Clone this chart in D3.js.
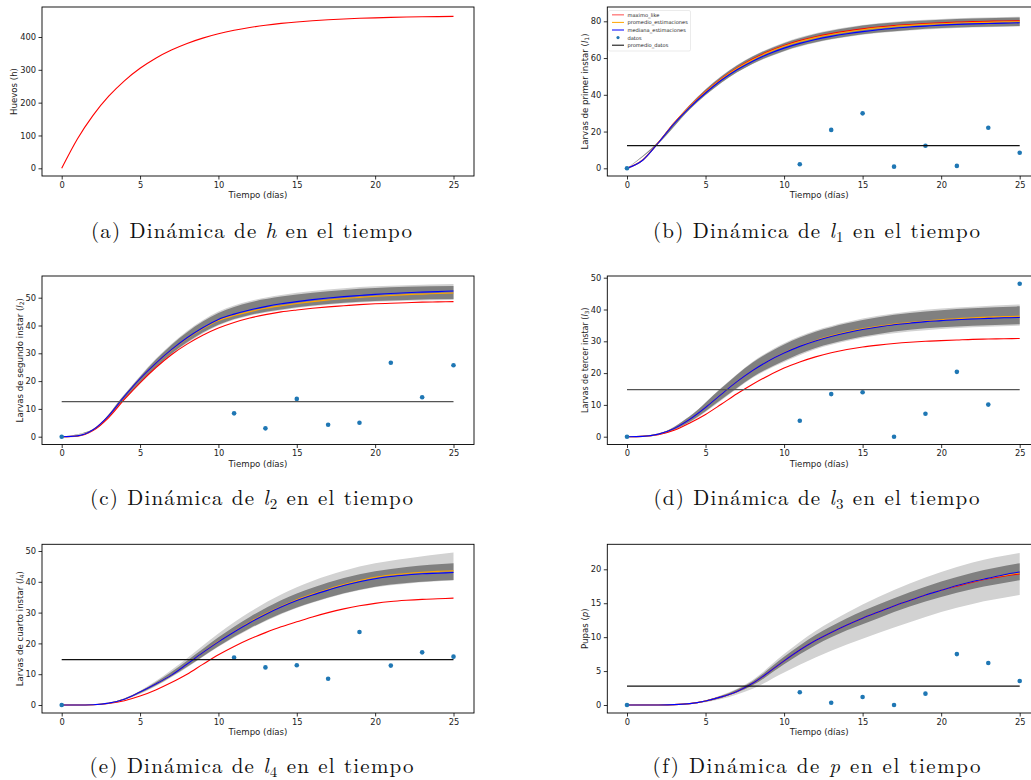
<!DOCTYPE html>
<html><head><meta charset="utf-8">
<script src="https://cdn.jsdelivr.net/npm/d3@7"></script>
<style>body{margin:0;background:#fff}</style>
</head><body>
<svg id="c" width="1031" height="780" xmlns="http://www.w3.org/2000/svg"></svg>
<script>
// ---------- data ----------
const days = [0,1,2,3,4,5,6,7,8,9,10,11,12,13,14,15,16,17,18,19,20,21,22,23,24,25];
const bandDays = [0,2,4,6,8,10,12,14,16,18,20,22,25];
const sampleDays = [0,11,13,15,17,19,21,23,25];
const xTicks = [0,5,10,15,20,25];

// (a) huevos
const huevos = [0,89.2,161.3,219.6,266.6,304.7,335.5,360.3,380.4,396.6,409.8,420.4,428.9,435.8,441.4,445.9,449.6,452.6,455.0,456.9,458.4,459.7,460.7,461.5,462.2,462.7];

// (b) l1
const l1Max  = [0,4.5,14.1,24.7,33.8,41.8,48.8,54.6,59.5,63.5,66.8,69.5,71.6,73.3,74.7,75.9,76.9,77.7,78.3,78.8,79.2,79.6,79.8,80.0,80.2,80.3];
const l1Prom = [0,4.5,14.0,24.6,33.6,41.6,48.5,54.3,59.1,63.1,66.4,69.0,71.1,72.8,74.2,75.4,76.4,77.2,77.8,78.3,78.7,79.0,79.3,79.5,79.7,79.8];
const l1Med  = [0,4.4,13.9,24.3,33.2,41.0,47.9,53.6,58.3,62.2,65.4,68.0,70.1,71.8,73.2,74.4,75.4,76.2,76.9,77.4,77.9,78.3,78.6,78.8,79.0,79.2];
const l1CoreLo  = [0,13.5,32.2,46.6,56.9,63.9,68.6,71.7,73.9,75.3,76.3,76.9,77.5];
const l1CoreHi  = [0,14.5,34.5,49.9,60.8,68.1,73.1,76.4,78.6,80.0,80.9,81.5,82.1];
const l1OuterLo = [0,13.4,32.0,46.4,56.7,63.6,68.3,71.4,73.6,75.0,76.0,76.6,77.2];
const l1OuterHi = [0,14.6,34.7,50.2,61.1,68.5,73.5,76.8,79.0,80.4,81.3,81.9,82.5];
const l1Datos = [0,2.2,20.9,29.9,0.9,12.3,1.3,22.1,8.5];
const l1PromDatos = 12.3;

// (c) l2
const l2Max  = [0,0.2,2.2,6.9,13.4,19.4,24.8,29.5,33.3,36.5,39.1,41.1,42.7,43.9,44.9,45.6,46.2,46.7,47.1,47.5,47.8,48.0,48.2,48.4,48.5,48.6];
const l2Prom = [0,0.3,2.5,7.6,14.5,20.9,26.4,31.2,35.4,38.9,41.8,43.6,45.0,46.2,47.1,47.9,48.6,49.2,49.7,50.1,50.5,50.8,51.1,51.3,51.5,51.7];
const l2Med  = [0,0.3,2.5,7.6,14.5,20.9,26.4,31.3,35.6,39.2,42.2,44.1,45.6,46.8,47.8,48.6,49.3,49.9,50.4,50.8,51.2,51.5,51.8,52.0,52.2,52.4];
const l2CoreLo  = [0,2.3,13.6,25.0,34.0,40.3,43.8,45.8,47.2,48.2,48.8,49.2,49.5];
const l2CoreHi  = [0,2.65,15.1,27.7,37.6,44.5,48.3,50.4,51.8,52.8,53.5,53.9,54.2];
const l2OuterLo = [0,2.2,13.3,24.6,33.6,40.0,43.5,45.5,46.9,47.9,48.5,48.9,49.2];
const l2OuterHi = [0,2.7,15.3,28.0,38.0,45.0,48.8,51.0,52.4,53.4,54.1,54.5,54.9];
const l2Datos = [0,8.4,3.0,13.6,4.3,5.0,26.6,14.2,25.7];
const l2PromDatos = 12.6;

// (d) l3
const l3Max  = [0,0.1,0.6,2.0,4.3,7.0,10.2,13.5,16.5,19.2,21.6,23.5,25.1,26.4,27.4,28.2,28.8,29.3,29.7,30.0,30.2,30.4,30.6,30.7,30.8,30.9];
const l3Prom = [0,0.1,0.8,2.6,5.5,9.2,13.3,17.3,20.8,23.8,26.4,28.5,30.2,31.7,32.9,33.9,34.7,35.4,35.9,36.4,36.8,37.1,37.4,37.6,37.8,37.9];
const l3Med  = [0,0.1,0.8,2.6,5.5,9.2,13.3,17.3,20.8,23.8,26.3,28.4,30.1,31.5,32.7,33.7,34.5,35.2,35.7,36.2,36.5,36.8,37.0,37.2,37.4,37.5];
const l3CoreLo  = [0,0.7,4.7,11.7,18.8,23.9,27.9,30.5,32.3,33.6,34.4,34.9,35.4];
const l3CoreHi  = [0,0.95,6.4,15.2,23.3,29.0,33.0,35.7,37.6,38.9,39.8,40.4,41.0];
const l3OuterLo = [0,0.6,4.5,11.4,18.5,23.5,27.5,30.1,31.9,33.1,33.9,34.4,34.9];
const l3OuterHi = [0,1.0,6.5,15.4,23.6,29.4,33.4,36.1,38.0,39.4,40.3,40.9,41.6];
const l3Datos = [0,5.0,13.4,14.0,0,7.2,20.4,10.1,48.1];
const l3PromDatos = 14.8;

// (e) l4
const l4Max  = [0,0,0.1,0.5,1.4,2.9,4.9,7.3,10.0,13.2,16.3,19.0,21.4,23.5,25.4,27.0,28.6,30.0,31.2,32.2,33.0,33.6,34.0,34.3,34.5,34.7];
const l4Prom = [0,0,0.1,0.6,1.9,4.2,6.8,9.7,13.3,17.0,20.6,23.8,26.9,29.6,32.0,34.2,36.0,37.6,39.1,40.4,41.5,42.2,42.7,43.1,43.4,43.6];
const l4Med  = [0,0,0.1,0.6,1.9,4.2,6.8,9.7,13.3,17.0,20.5,23.7,26.7,29.4,31.8,33.9,35.7,37.3,38.8,40.0,41.0,41.7,42.2,42.6,42.8,43.0];
const l4CoreLo  = [0,0.1,1.8,6.3,12.4,19.1,24.9,29.7,33.4,36.3,38.4,39.6,40.6];
const l4CoreHi  = [0,0.1,2.1,7.4,14.4,22.0,28.6,34.0,38.1,41.2,43.4,44.8,46.0];
const l4OuterLo = [0,0.1,1.7,6.1,12.2,18.9,24.7,29.5,33.2,36.1,38.2,39.4,40.4];
const l4OuterHi = [0,0.1,2.2,7.8,15.2,23.2,30.2,35.9,40.3,43.6,46.0,47.6,49.5];
const l4Datos = [0,15.4,12.2,12.9,8.5,23.7,12.8,17.1,15.7];
const l4PromDatos = 14.7;

// (f) p
const pMax  = [0,0,0.01,0.05,0.2,0.6,1.2,2.0,3.2,4.8,6.5,8.1,9.5,10.7,11.8,12.8,13.7,14.6,15.4,16.2,16.9,17.5,18.1,18.6,19.0,19.3];
const pProm = [0,0,0.01,0.05,0.2,0.6,1.2,2.0,3.2,4.8,6.5,8.1,9.5,10.7,11.8,12.8,13.7,14.6,15.4,16.2,16.9,17.6,18.2,18.7,19.1,19.5];
const pMed  = [0,0,0.01,0.05,0.2,0.6,1.2,2.0,3.2,4.8,6.5,8.1,9.5,10.7,11.8,12.8,13.7,14.6,15.4,16.2,16.9,17.6,18.2,18.7,19.2,19.6];
const pCoreLo  = [0,0,0.18,1.05,2.9,6.0,8.8,11.0,12.8,14.5,15.9,17.1,18.4];
const pCoreHi  = [0,0.02,0.24,1.35,3.5,7.1,10.3,12.8,14.8,16.6,18.2,19.5,20.9];
const pOuterLo = [0,0,0.15,0.9,2.4,4.8,7.0,8.9,10.6,12.2,13.7,14.9,16.2];
const pOuterHi = [0,0.02,0.26,1.45,3.7,7.5,10.9,13.6,15.9,17.9,19.6,21.0,22.4];
const pDatos = [0,1.87,0.34,1.18,0,1.67,7.5,6.2,3.54];
const pPromDatos = 2.79;

const legendLabels = ["maximo_like","promedio_estimaciones","mediana_estimaciones","datos","promedio_datos"];

// ---------- layout ----------
const svg = d3.select("#c");
const tickFont = "DejaVu Sans, sans-serif";
const capFont = "'Latin Modern Roman','CMU Serif','Liberation Serif',serif";

const cols = [
  {fl:42, fr:474, x0:61.7, x25:453.5},
  {fl:607.3, fr:1039, x0:627, x25:1019.7}
];
const rows = [ {ft:7, fb:176}, {ft:276, fb:444.5}, {ft:544.3, fb:713} ];

const panels = [
  {col:0,row:0, py0:168.3, topV:400, pyTop:37.0, yTicks:[0,100,200,300,400], ylab:[["Huevos (h)",false]], ylabX:13.5,
   main:huevos},
  {col:1,row:0, py0:168.3, topV:80, pyTop:21.3, yTicks:[0,20,40,60,80], ylab:[["Larvas de primer instar (",false],["l",true],["1",false,true],[")",false]], ylabX:585,
   max:l1Max, prom:l1Prom, med:l1Med, core:[l1CoreLo,l1CoreHi], outer:[l1OuterLo,l1OuterHi], datos:l1Datos, pd:l1PromDatos, legend:true, pdColor:"#111"},
  {col:0,row:1, py0:436.7, topV:50, pyTop:297.7, yTicks:[0,10,20,30,40,50], ylab:[["Larvas de segundo instar (",false],["l",true],["2",false,true],[")",false]], ylabX:20,
   max:l2Max, prom:l2Prom, med:l2Med, core:[l2CoreLo,l2CoreHi], outer:[l2OuterLo,l2OuterHi], datos:l2Datos, pd:l2PromDatos, pdColor:"#555"},
  {col:1,row:1, py0:436.7, topV:50, pyTop:277.7, yTicks:[0,10,20,30,40,50], ylab:[["Larvas de tercer instar (",false],["l",true],["3",false,true],[")",false]], ylabX:585, ylabSize:8.0,
   max:l3Max, prom:l3Prom, med:l3Med, core:[l3CoreLo,l3CoreHi], outer:[l3OuterLo,l3OuterHi], datos:l3Datos, pd:l3PromDatos, pdColor:"#555"},
  {col:0,row:2, py0:705, topV:50, pyTop:551, yTicks:[0,10,20,30,40,50], ylab:[["Larvas de cuarto instar (",false],["l",true],["4",false,true],[")",false]], ylabX:20,
   max:l4Max, prom:l4Prom, med:l4Med, core:[l4CoreLo,l4CoreHi], outer:[l4OuterLo,l4OuterHi], datos:l4Datos, pd:l4PromDatos, pdColor:"#111"},
  {col:1,row:2, py0:705, topV:20, pyTop:569.3, yTicks:[0,5,10,15,20], ylab:[["Pupas (",false],["p",true],[")",false]], ylabX:585,
   max:pMax, prom:pProm, med:pMed, core:[pCoreLo,pCoreHi], outer:[pOuterLo,pOuterHi], datos:pDatos, pd:pPromDatos, pdColor:"#111"}
];

panels.forEach((p,i) => {
  const c = cols[p.col], r = rows[p.row];
  const x = d3.scaleLinear().domain([0,25]).range([c.x0, c.x25]);
  const y = d3.scaleLinear().domain([0,p.topV]).range([p.py0, p.pyTop]);
  const g = svg.append("g");
  const cid = "clip"+i;
  svg.append("clipPath").attr("id",cid).append("rect")
    .attr("x",c.fl).attr("y",r.ft).attr("width",c.fr-c.fl).attr("height",r.fb-r.ft);
  const pg = g.append("g").attr("clip-path",`url(#${cid})`);
  const line = d3.line().x((d,j)=>x(days[j])).y(d=>y(d)).curve(d3.curveMonotoneX);
  const area = (lo,hi) => d3.area().x((d,j)=>x(bandDays[j])).y0((d,j)=>y(lo[j])).y1((d,j)=>y(hi[j])).curve(d3.curveMonotoneX)(lo);

  if (p.main) {
    pg.append("path").attr("d",line(p.main)).attr("fill","none").attr("stroke","#ff0000").attr("stroke-width",1.1);
  } else {
    pg.append("path").attr("d",area(p.outer[0],p.outer[1])).attr("fill","#d2d2d2");
    pg.append("path").attr("d",area(p.core[0],p.core[1])).attr("fill","#808080");
    pg.append("path").attr("d",line(p.max)).attr("fill","none").attr("stroke","#ff0000").attr("stroke-width",1.1);
    pg.append("path").attr("d",line(p.prom)).attr("fill","none").attr("stroke","#ffa500").attr("stroke-width",1.1);
    pg.append("path").attr("d",line(p.med)).attr("fill","none").attr("stroke","#0000ff").attr("stroke-width",1.1);
    pg.selectAll("circle").data(p.datos).join("circle")
      .attr("cx",(d,j)=>x(sampleDays[j])).attr("cy",d=>y(d)).attr("r",2.3).attr("fill","#1f77b4");
    pg.append("line").attr("x1",x(0)).attr("x2",x(25)).attr("y1",y(p.pd)).attr("y2",y(p.pd))
      .attr("stroke",p.pdColor).attr("stroke-width",1.2);
  }
  // frame
  g.append("rect").attr("x",c.fl).attr("y",r.ft).attr("width",c.fr-c.fl).attr("height",r.fb-r.ft)
    .attr("fill","none").attr("stroke","#000").attr("stroke-width",0.9);
  // axes
  const ax = g.append("g").attr("transform",`translate(0,${r.fb})`)
    .call(d3.axisBottom(x).tickValues(xTicks).tickSize(3.5).tickPadding(2.5).tickFormat(d3.format("d")));
  const ay = g.append("g").attr("transform",`translate(${c.fl},0)`)
    .call(d3.axisLeft(y).tickValues(p.yTicks).tickSize(3.5).tickPadding(2.5).tickFormat(d3.format("d")));
  [ax,ay].forEach(a=>{
    a.select(".domain").remove();
    a.selectAll("line").attr("stroke","#000").attr("stroke-width",0.8);
    a.selectAll("text").attr("font-family",tickFont).attr("font-size",8.3).attr("fill","#222");
  });
  // x label
  g.append("text").attr("x",(c.fl + c.fr)/2 - (p.col===1?4:0)).attr("y",r.fb+22)
    .attr("text-anchor","middle").attr("font-family",tickFont).attr("font-size",8.6).attr("fill","#222")
    .text("Tiempo (días)");
  // y label
  const yl = g.append("text").attr("transform",`translate(${p.ylabX},${(r.ft+r.fb)/2}) rotate(-90)`)
    .attr("text-anchor","middle").attr("dominant-baseline","middle")
    .attr("font-family",tickFont).attr("font-size",p.ylabSize||8.6).attr("fill","#222");
  p.ylab.forEach(([t,it,sub])=>{
    const ts = yl.append("tspan").text(t);
    if (it) ts.attr("font-style","italic").attr("font-family","DejaVu Sans");
    if (sub) ts.attr("font-size",(p.ylabSize||8.6)*0.7).attr("dy",2);
    else if (t===")" && p.ylab.length>3) ts.attr("dy",-2);
  });

  if (p.legend) {
    const lg = g.append("g");
    lg.append("rect").attr("x",608.5).attr("y",10.5).attr("width",82).attr("height",40.5).attr("rx",1.5)
      .attr("fill","#fff").attr("fill-opacity",0.85).attr("stroke","#ddd").attr("stroke-width",0.6);
    const cols2 = ["#ff7f7f","#ffa500","#0000ff",null,"#000"];
    legendLabels.forEach((lab,k)=>{
      const yy = 14.8 + k*7.6;
      if (cols2[k]) lg.append("line").attr("x1",612).attr("x2",624).attr("y1",yy).attr("y2",yy)
        .attr("stroke",cols2[k]).attr("stroke-width",k===0?1.4:1);
      else lg.append("circle").attr("cx",618).attr("cy",yy).attr("r",1.6).attr("fill","#1f77b4");
      lg.append("text").attr("x",627.5).attr("y",yy).attr("dominant-baseline","central")
        .attr("font-family",tickFont).attr("font-size",5.1).attr("fill","#222").text(lab);
    });
  }
});

// ---------- captions ----------
const captions = [
  {cx:251.5, by:237.5, w:321, parts:[["(a) Dinámica de "],["h","it"],[" en el tiempo"]]},
  {cx:816.5, by:237.5, w:327, parts:[["(b) Dinámica de "],["l","it"],["1","sub"],[" en el tiempo"]]},
  {cx:251.5, by:505, w:323, parts:[["(c) Dinámica de "],["l","it"],["2","sub"],[" en el tiempo"]]},
  {cx:816.5, by:505, w:326, parts:[["(d) Dinámica de "],["l","it"],["3","sub"],[" en el tiempo"]]},
  {cx:251.5, by:772.5, w:324, parts:[["(e) Dinámica de "],["l","it"],["4","sub"],[" en el tiempo"]]},
  {cx:816.5, by:772.5, w:328, parts:[["(f) Dinámica de "],["p","it"],[" en el tiempo"]]}
];
captions.forEach(cp=>{
  const t = svg.append("text").attr("x",cp.cx).attr("y",cp.by).attr("text-anchor","middle")
    .attr("font-family",capFont).attr("font-size",21).attr("fill","#111")
    .attr("textLength",cp.w).attr("lengthAdjust","spacing");
  let subbed=false;
  cp.parts.forEach(([s,k])=>{
    const ts = t.append("tspan").text(s);
    if (k==="it") ts.attr("font-style","italic");
    if (k==="sub") { ts.attr("font-size",15).attr("dy",4); subbed=true; }
    else if (subbed) { ts.attr("dy",-4); subbed=false; }
  });
});
</script>
</body></html>
